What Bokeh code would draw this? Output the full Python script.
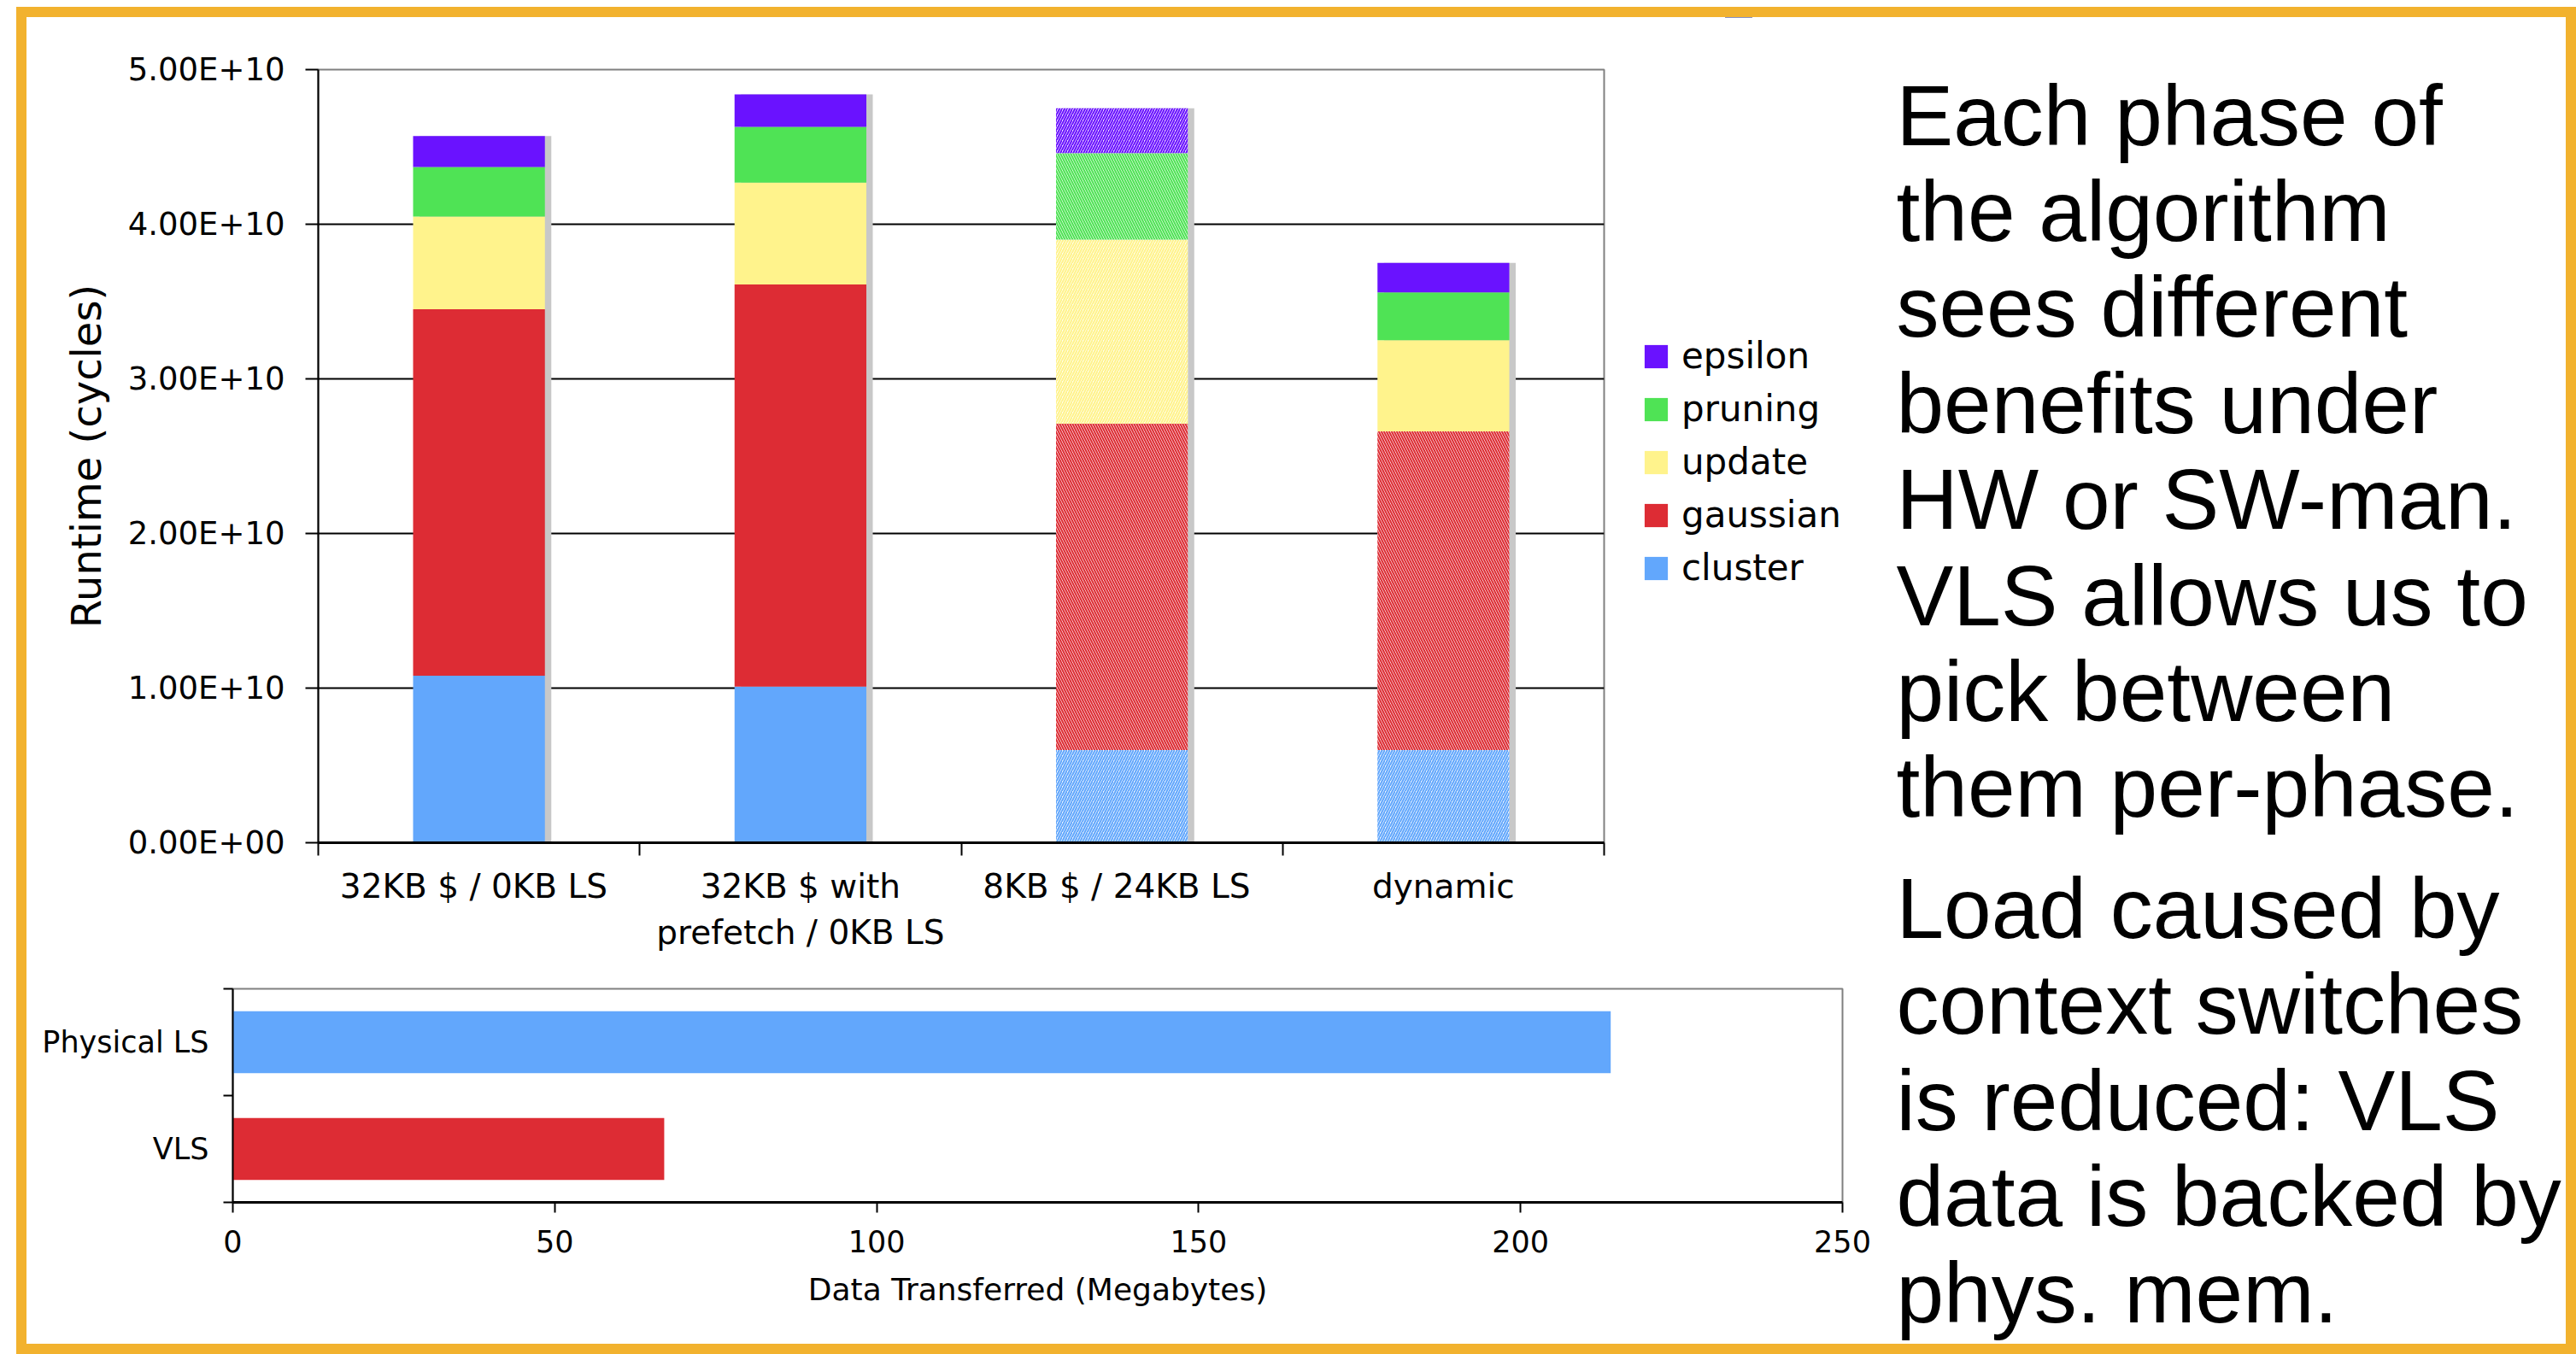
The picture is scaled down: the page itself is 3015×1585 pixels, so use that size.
from bokeh.plotting import figure
from bokeh.models import (Range1d, LinearAxis, FixedTicker, Legend, LegendItem, Label,
                          ColumnDataSource)
from bokeh.layouts import row, column
from bokeh.embed import file_html
from bokeh.resources import INLINE

# ---------------- data ----------------
configs = ["32KB $ /  0KB LS", "32KB $ with\nprefetch / 0KB LS", "8KB $ /  24KB LS", "dynamic"]
phases = ["cluster", "gaussian", "update", "pruning", "epsilon"]
cluster = [1.08e10, 1.01e10, 0.60e10, 0.60e10]
gaussian = [2.37e10, 2.60e10, 2.11e10, 2.06e10]
update = [0.60e10, 0.66e10, 1.19e10, 0.59e10]
pruning = [0.32e10, 0.36e10, 0.56e10, 0.31e10]
epsilon = [0.20e10, 0.21e10, 0.29e10, 0.19e10]
# segments that are software managed (drawn hatched)
hatched_cluster = [False, False, True, True]
hatched_gaussian = [False, False, True, True]
hatched_update = [False, False, True, False]
hatched_pruning = [False, False, True, False]
hatched_epsilon = [False, False, True, False]

y_ticks = [0, 10000000000, 20000000000, 30000000000, 40000000000, 50000000000]
y_tick_labels = ["0.00E+00", "1.00E+10", "2.00E+10", "3.00E+10", "4.00E+10", "5.00E+10"]

transfer_labels = ["Physical LS", "VLS"]
transfer_mb = [214, 67]
mb_ticks = [0, 50, 100, 150, 200, 250]

para1 = ["Each phase of", "the algorithm", "sees different", "benefits under",
         "HW or SW-man.", "VLS allows us to", "pick between", "them per-phase."]
para2 = ["Load caused by", "context switches", "is reduced: VLS",
         "data is backed by", "phys. mem."]

# ---------------- style ----------------
colors = {"cluster": "#62A7FC", "gaussian": "#DD2C34", "update": "#FFF38C",
          "pruning": "#4FE355", "epsilon": "#6A12FF"}
hatch_dir = {"cluster": "/", "gaussian": "\\", "update": "/", "pruning": "\\", "epsilon": "/"}
FONT = "DejaVu Sans"
ORANGE = "#F2B22E"
BAR_W = 0.41


def tint(hexcol, f=0.88):
    r, g, b = int(hexcol[1:3], 16), int(hexcol[3:5], 16), int(hexcol[5:7], 16)
    r, g, b = [int(c + (255 - c) * f) for c in (r, g, b)]
    return "#%02x%02x%02x" % (r, g, b)


series = {"cluster": cluster, "gaussian": gaussian, "update": update,
          "pruning": pruning, "epsilon": epsilon}
hatched = {"cluster": hatched_cluster, "gaussian": hatched_gaussian, "update": hatched_update,
           "pruning": hatched_pruning, "epsilon": hatched_epsilon}

n_cfg = len(configs)
cfg_pos = [i + 0.5 for i in range(n_cfg)]          # category centres on a 0..n axis
cfg_bounds = list(range(n_cfg + 1))                 # category boundaries (tick marks)

# ---------------- top chart ----------------
TOP_H = 1109
top = figure(x_range=Range1d(0, n_cfg), y_range=Range1d(0, 5e10), title=None,
             frame_width=1505, frame_height=905, frame_align=False,
             min_border_left=341, min_border_right=2, min_border_top=61, min_border_bottom=143,
             x_axis_location=None, output_backend="svg", toolbar_location=None)
top.background_fill_color = "white"
top.border_fill_color = "white"
top.outline_line_color = "#808080"
top.outline_line_width = 2
top.xgrid.visible = False
top.ygrid.ticker = FixedTicker(ticks=y_ticks[1:-1])
top.ygrid.grid_line_color = "black"
top.ygrid.grid_line_width = 2

ya = top.yaxis[0]
ya.ticker = FixedTicker(ticks=y_ticks)
ya.major_label_overrides = dict(zip(y_ticks, y_tick_labels))
ya.axis_label = "Runtime (cycles)"
ya.axis_label_text_font = FONT
ya.axis_label_text_font_size = "48px"
ya.axis_label_text_font_style = "normal"
ya.axis_label_text_color = "black"
ya.axis_label_standoff = 18
ya.major_label_text_font = FONT
ya.major_label_text_font_size = "37px"
ya.major_label_text_color = "black"
ya.major_label_standoff = 24
ya.major_tick_out = 15
ya.major_tick_in = 0
ya.minor_tick_line_color = None
ya.major_tick_line_width = 2
ya.axis_line_width = 2
ya.axis_line_color = "black"
ya.major_tick_line_color = "black"

# category axis: labels at centres, tick marks (minor ticks) at boundaries
cat_axis = LinearAxis(ticker=FixedTicker(ticks=cfg_pos, minor_ticks=cfg_bounds),
                      major_label_overrides=dict(zip(cfg_pos, configs)),
                      axis_line_color="black", axis_line_width=3,
                      major_tick_line_color=None, major_tick_out=15, major_tick_in=0,
                      minor_tick_line_color="black", minor_tick_line_width=2,
                      minor_tick_out=15, minor_tick_in=0,
                      major_label_text_font=FONT, major_label_text_font_size="39px",
                      major_label_text_color="black", major_label_standoff=13,
                      major_label_text_line_height=1.2)
top.add_layout(cat_axis, "below")

# shadows
totals = [sum(v) for v in zip(*[series[s] for s in phases])]
shadow_src = ColumnDataSource(dict(x=[p + 0.02 for p in cfg_pos], top=totals))
top.vbar(x="x", top="top", bottom=0, width=BAR_W, source=shadow_src,
         fill_color="#C8C8C8", line_color=None)

stack_bottoms = {}
stack_tops = {}
bottoms = [0.0] * n_cfg
for s in phases:
    vals = series[s]
    tops = [b + v for b, v in zip(bottoms, vals)]
    stack_bottoms[s], stack_tops[s] = bottoms, tops
    src = ColumnDataSource(dict(
        x=cfg_pos, bottom=bottoms, top=tops,
        fill=[tint(colors[s]) if h else colors[s] for h in hatched[s]],
        hatch=[hatch_dir[s] if h else " " for h in hatched[s]],
    ))
    top.vbar(x="x", bottom="bottom", top="top", width=BAR_W, source=src,
             fill_color="fill", line_color=None, hatch_pattern="hatch",
             hatch_color=colors[s], hatch_weight=2.0, hatch_scale=6)
    bottoms = tops

# ---------------- legend panel (right of the top chart) ----------------
# Proxy renderers carry the same stacked data; the panel's y range (-2..-1) lies below
# every value, so only their legend swatches show.
LEG_W = 2159 - (341 + 1505 + 2)
leg = figure(width=LEG_W, height=TOP_H, x_range=Range1d(0, 1), y_range=Range1d(-2, -1),
             title=None, min_border=0, frame_align=False, output_backend="svg",
             toolbar_location=None)
leg.axis.visible = False
leg.grid.visible = False
leg.outline_line_color = None
leg_items = []
for s in reversed(phases):
    psrc = ColumnDataSource(dict(x=[0.5] * n_cfg, bottom=stack_bottoms[s], top=stack_tops[s]))
    r = leg.vbar(x="x", bottom="bottom", top="top", width=0.1, source=psrc,
                 fill_color=colors[s], line_color=None)
    leg_items.append(LegendItem(label=s, renderers=[r], index=0))
legend = Legend(items=leg_items, location=(42, 440), border_line_color=None,
                background_fill_alpha=0, padding=0, margin=0, glyph_width=34, glyph_height=34,
                label_standoff=13, spacing=13, label_text_font=FONT, label_text_font_size="42px",
                label_text_color="black", label_height=48)
leg.add_layout(legend)

# ---------------- bottom chart ----------------
n_tr = len(transfer_labels)
tr_pos = [n_tr - i - 0.5 for i in range(n_tr)]     # first label on top
tr_bounds = list(range(n_tr + 1))

bot = figure(y_range=Range1d(0, n_tr), x_range=Range1d(0, 250), title=None,
             frame_width=1884, frame_height=250, frame_align=False,
             min_border_left=241, min_border_right=34, min_border_top=28, min_border_bottom=166,
             y_axis_location=None, output_backend="svg", toolbar_location=None)
bot.outline_line_color = "#808080"
bot.outline_line_width = 2
bot.grid.visible = False
xa = bot.xaxis[0]
xa.ticker = FixedTicker(ticks=mb_ticks)
xa.axis_label = "Data Transferred (Megabytes)"
xa.axis_label_text_font = FONT
xa.axis_label_text_font_size = "36px"
xa.axis_label_text_font_style = "normal"
xa.axis_label_text_color = "black"
xa.axis_label_standoff = 20
xa.major_label_text_font = FONT
xa.major_label_text_font_size = "35px"
xa.major_label_text_color = "black"
xa.major_label_standoff = 20
xa.major_tick_out = 12
xa.major_tick_in = 0
xa.minor_tick_line_color = None
xa.major_tick_line_width = 2
xa.axis_line_width = 3
xa.axis_line_color = "black"
xa.major_tick_line_color = "black"

ycat_axis = LinearAxis(ticker=FixedTicker(ticks=tr_pos, minor_ticks=tr_bounds),
                       major_label_overrides=dict(zip(tr_pos, transfer_labels)),
                       axis_line_color="black", axis_line_width=2,
                       major_tick_line_color=None, major_tick_out=11, major_tick_in=0,
                       minor_tick_line_color="black", minor_tick_line_width=2,
                       minor_tick_out=11, minor_tick_in=0,
                       major_label_text_font=FONT, major_label_text_font_size="35px",
                       major_label_text_color="black", major_label_standoff=17)
bot.add_layout(ycat_axis, "left")

bsrc = ColumnDataSource(dict(y=tr_pos, right=transfer_mb,
                             fill=[colors["cluster"], colors["gaussian"]]))
bot.hbar(y="y", right="right", left=0, height=0.58, source=bsrc, fill_color="fill", line_color=None)

# ---------------- text panel ----------------
TW, TH = 813, 1553
txt = figure(width=TW, height=TH, x_range=Range1d(0, TW), y_range=Range1d(0, TH), title=None,
             min_border=0, frame_align=False, output_backend="svg", toolbar_location=None)
txt.axis.visible = False
txt.grid.visible = False
txt.outline_line_color = None
for i, line in enumerate(para1):
    txt.add_layout(Label(x=29, y=TH - (114 + i * 112.4), text=line, text_font="Liberation Sans",
                         text_font_size="100px", text_color="black", text_baseline="alphabetic"))
for i, line in enumerate(para2):
    txt.add_layout(Label(x=29, y=TH - (1042 + i * 112.6), text=line, text_font="Liberation Sans",
                         text_font_size="100px", text_color="black", text_baseline="alphabetic"))

layout = row(column(row(top, leg, spacing=0), bot, spacing=0), txt, spacing=0,
             styles={"border": "12px solid " + ORANGE, "margin-left": "19px", "margin-top": "8px"})

open("out.html", "w").write(file_html(layout, INLINE))
